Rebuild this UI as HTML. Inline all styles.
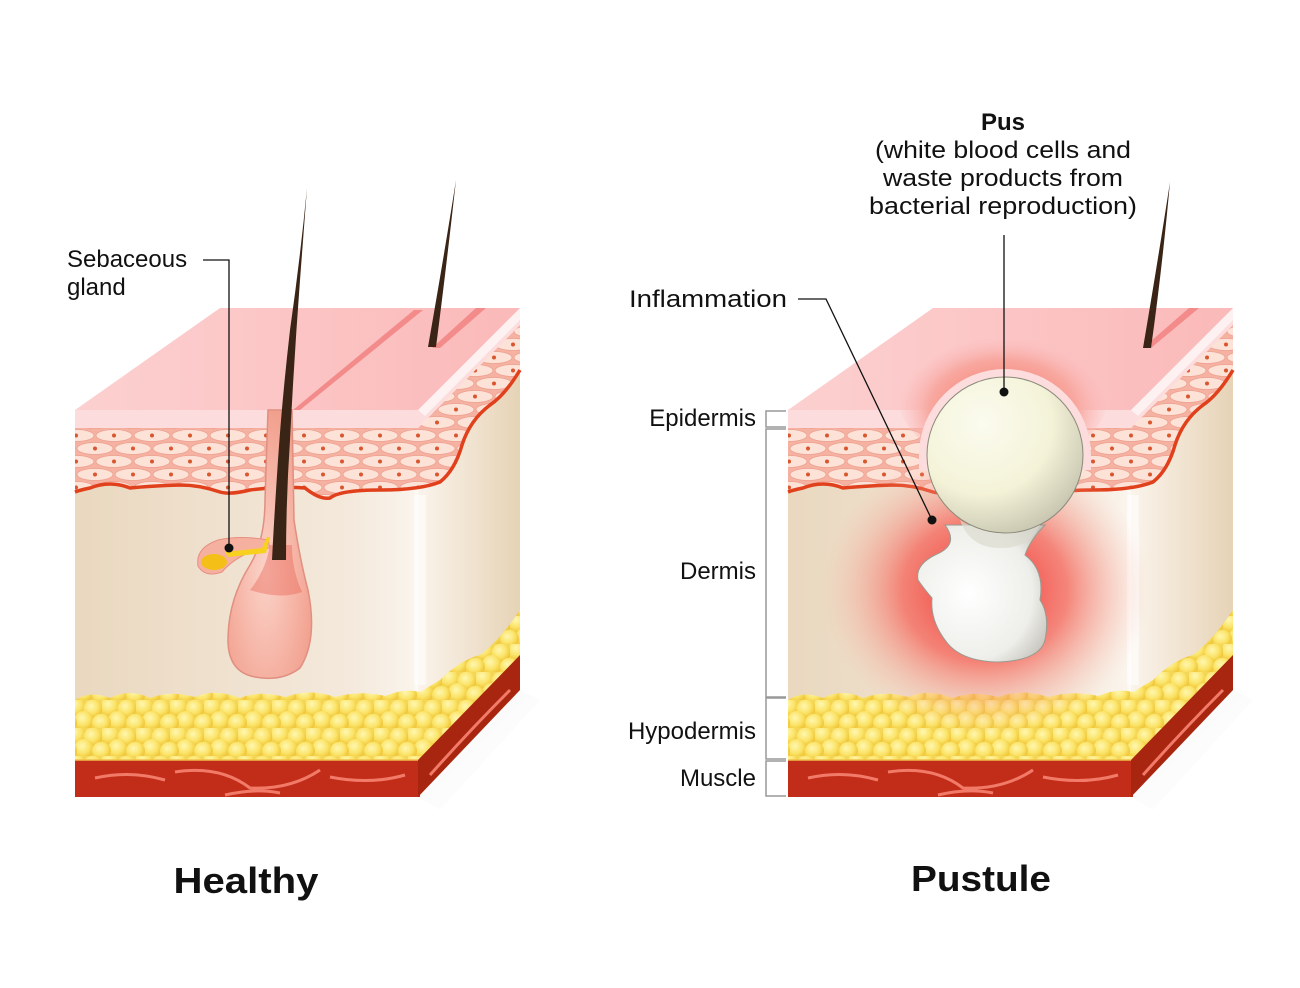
<!DOCTYPE html>
<html><head><meta charset="utf-8"><style>
html,body{margin:0;padding:0;background:#fff}
svg{display:block}
text{font-family:"Liberation Sans",sans-serif;fill:#111}
</style></head><body>
<svg width="1300" height="988" viewBox="0 0 1300 988" xmlns="http://www.w3.org/2000/svg">
<defs>
  <pattern id="cells" width="38" height="26" patternUnits="userSpaceOnUse">
    <rect width="38" height="26" fill="#f5b2a2"/>
    <ellipse cx="19" cy="6.5" rx="18" ry="6" fill="#fde2d8" stroke="#eea08e" stroke-width="0.8"/>
    <ellipse cx="0" cy="19.5" rx="18" ry="6" fill="#fde2d8" stroke="#eea08e" stroke-width="0.8"/>
    <ellipse cx="38" cy="19.5" rx="18" ry="6" fill="#fde2d8" stroke="#eea08e" stroke-width="0.8"/>
    <circle cx="19" cy="6.5" r="2" fill="#d9562e"/>
    <circle cx="0" cy="19.5" r="2" fill="#d9562e"/>
    <circle cx="38" cy="19.5" r="2" fill="#d9562e"/>
  </pattern>
  <radialGradient id="fatg" cx="0.4" cy="0.35" r="0.6">
    <stop offset="0" stop-color="#fff7b0"/>
    <stop offset="0.6" stop-color="#fbe46a"/>
    <stop offset="1" stop-color="#f0c83a"/>
  </radialGradient>
  <pattern id="fat" width="34" height="28" patternUnits="userSpaceOnUse">
    <rect width="34" height="28" fill="#f3d65a"/>
    <circle cx="8" cy="7" r="10" fill="url(#fatg)"/>
    <circle cx="25" cy="9" r="9.5" fill="url(#fatg)"/>
    <circle cx="16" cy="21" r="10" fill="url(#fatg)"/>
    <circle cx="33" cy="23" r="9" fill="url(#fatg)"/>
    <circle cx="0" cy="23" r="9" fill="url(#fatg)"/>
  </pattern>
  <linearGradient id="derm" x1="0" x2="1" y1="0" y2="0">
    <stop offset="0" stop-color="#ead8bf"/>
    <stop offset="0.8" stop-color="#f4e9dc"/>
    <stop offset="0.98" stop-color="#faf4ec"/>
    <stop offset="1" stop-color="#fff"/>
  </linearGradient>
  <linearGradient id="dermR" x1="0" x2="1">
    <stop offset="0" stop-color="#fbf4ec"/>
    <stop offset="1" stop-color="#e6d3b6"/>
  </linearGradient>
  <linearGradient id="topg" x1="0" x2="1">
    <stop offset="0" stop-color="#fcd0d0"/>
    <stop offset="1" stop-color="#fbb9b9"/>
  </linearGradient>
  <radialGradient id="follg" cx="0.45" cy="0.6" r="0.6">
    <stop offset="0" stop-color="#fbd3c9"/>
    <stop offset="1" stop-color="#f2a08e"/>
  </radialGradient>
  <radialGradient id="glow" cx="0.5" cy="0.5" r="0.5">
    <stop offset="0" stop-color="#f22a2a" stop-opacity="1"/>
    <stop offset="0.5" stop-color="#f55a50" stop-opacity="0.7"/>
    <stop offset="1" stop-color="#f8c0b0" stop-opacity="0"/>
  </radialGradient>
  <radialGradient id="bump" cx="0.5" cy="0.6" r="0.5">
    <stop offset="0" stop-color="#f3705e"/>
    <stop offset="0.7" stop-color="#f8a8a0"/>
    <stop offset="1" stop-color="#fbbcbc" stop-opacity="0"/>
  </radialGradient>
  <radialGradient id="pusg" cx="0.35" cy="0.3" r="0.75">
    <stop offset="0" stop-color="#fbfbef"/>
    <stop offset="0.6" stop-color="#f4f3d8"/>
    <stop offset="1" stop-color="#c8c6b0"/>
  </radialGradient>
  <radialGradient id="pusg2" cx="0.4" cy="0.5" r="0.7">
    <stop offset="0" stop-color="#ffffff"/>
    <stop offset="0.7" stop-color="#eeeeea"/>
    <stop offset="1" stop-color="#c4c3bc"/>
  </radialGradient>
  <linearGradient id="shadow" x1="0" x2="1" y1="0" y2="1">
    <stop offset="0" stop-color="#ddd" stop-opacity="0.4"/>
    <stop offset="1" stop-color="#fff" stop-opacity="0"/>
  </linearGradient>

  <g id="block">
    <polygon points="418,797 520,690 540,700 440,810" fill="url(#shadow)"/>
    <rect x="75" y="410" width="345" height="387" fill="url(#derm)"/>
    <polygon points="418,410 520,308 520,690 418,797" fill="url(#dermR)"/>
    <path d="M75,700 Q90,690 110,698 Q130,688 150,698 Q170,690 195,697 Q215,688 240,698 Q260,690 285,697 Q310,688 335,697 Q360,690 385,696 Q405,688 420,692 L440,680 Q460,660 480,655 Q500,640 520,610 L520,660 L418,762 L75,762 Z" fill="url(#fat)"/>
    <rect x="75" y="760" width="345" height="37" fill="#c12d18"/>
    <polygon points="418,760 520,655 520,690 418,797" fill="#a8260f"/>
    <path d="M95,778 Q130,770 165,780 M175,772 Q220,765 250,788 Q290,790 320,770 M330,777 Q370,785 405,775 M225,795 Q255,788 280,793 M430,775 Q470,730 510,690" stroke="#f27a68" stroke-width="3" fill="none"/>
    <line x1="75" y1="760" x2="418" y2="760" stroke="#f0c04a" stroke-width="1.5"/>
    <path d="M75,428 L418,428 L520,325 L520,370 Q505,395 490,405 Q470,420 462,445 Q455,470 440,482 Q420,490 380,490 Q340,490 330,498 Q320,500 305,488 Q280,486 250,490 Q230,495 220,492 Q200,485 180,485 Q150,486 130,488 Q110,480 90,488 Q80,490 75,492 Z" fill="url(#cells)" stroke="none"/>
    <path d="M520,370 Q505,395 490,405 Q470,420 462,445 Q455,470 440,482 Q420,490 380,490 Q340,490 330,498 Q320,500 305,488 Q280,486 250,490 Q230,495 220,492 Q200,485 180,485 Q150,486 130,488 Q110,480 90,488 Q80,490 75,492" fill="none" stroke="#e1401c" stroke-width="3.5"/>
    <polygon points="75,410 418,410 520,308 520,325 418,428 75,428" fill="#fcdcdc"/>
    <polygon points="418,410 520,308 520,320 425,416" fill="#fff" opacity="0.6"/>
    <polygon points="75,410 220,308 520,308 418,410" fill="url(#topg)"/>
    <rect x="414" y="495" width="12" height="190" fill="#fff" opacity="0.55"/>
  </g>
</defs>

<use href="#block"/>
<polygon points="293,410 300,410 423,310 414,310" fill="#f48b8b"/>
<polygon points="432,348 440,348 486,308 476,308" fill="#f48b8b"/>
<path d="M268,410 L292,410 L294,520 Q300,560 308,590 Q318,640 300,668 Q282,682 255,677 Q228,672 228,640 Q228,600 250,565 Q265,540 265,500 Z" fill="url(#follg)" stroke="#e08f80" stroke-width="1.5"/>
<path d="M270,545 L292,545 Q292,570 302,592 Q280,600 250,590 Q266,570 270,545Z" fill="#e86050" opacity="0.4"/>
<path d="M268,540 Q240,535 218,540 Q195,548 198,566 Q205,578 222,572 Q232,560 250,552 Q262,548 270,548 Z" fill="#f6b0a0" stroke="#e89080"/>
<ellipse cx="214" cy="562" rx="13" ry="8" fill="#f4c018"/>
<path d="M225,552 L262,548 L267,537 L270,537 L266,553 L228,557Z" fill="#f7d020"/>
<path d="M307,188 Q300,260 290,330 Q282,400 278,460 Q274,520 272,560 L286,560 Q286,500 290,440 Q294,360 300,280 Z" fill="#3a2416"/>
<path d="M456,180 Q445,250 428,347 L436,347 Q446,270 456,180Z" fill="#3a2416"/>
<text x="67" y="267" font-size="24">Sebaceous</text>
<text x="67" y="295" font-size="24">gland</text>
<polyline points="203,260 229,260 229,548" fill="none" stroke="#111" stroke-width="1.3"/>
<circle cx="229" cy="548" r="4.5" fill="#111"/>

<use href="#block" x="713"/>
<ellipse cx="985" cy="590" rx="165" ry="145" fill="url(#glow)"/>
<ellipse cx="1003" cy="395" rx="105" ry="72" fill="url(#bump)"/>
<polygon points="1143,348 1151,348 1199,308 1189,308" fill="#f48b8b"/>
<path d="M1170,182 Q1158,260 1143,348 L1151,348 Q1162,270 1170,182Z" fill="#3a2416"/>
<path d="M919,455 A86,86 0 0 1 1091,455 L1091,470 L919,470 Z" fill="#fcdcdc"/>
<path d="M945,525 Q960,545 935,555 Q915,565 918,580 Q925,590 932,598 Q930,620 945,640 Q960,662 1000,662 Q1040,660 1045,640 Q1050,615 1040,600 Q1045,570 1025,555 Q1030,540 1045,525 Z" fill="url(#pusg2)" stroke="#9a9a90" stroke-width="1"/>
<circle cx="1005" cy="455" r="78" fill="url(#pusg)" stroke="#8a8a7a" stroke-width="1"/>
<path d="M960,520 Q1000,545 1040,525 Q1030,548 1000,548 Q970,548 960,520Z" fill="#dcdcd0" opacity="0.7"/>

<text x="1003" y="130" font-size="24" font-weight="bold" text-anchor="middle">Pus</text>
<text x="1003" y="158" font-size="24" text-anchor="middle" textLength="256" lengthAdjust="spacingAndGlyphs">(white blood cells and</text>
<text x="1003" y="186" font-size="24" text-anchor="middle" textLength="240" lengthAdjust="spacingAndGlyphs">waste products from</text>
<text x="1003" y="214" font-size="24" text-anchor="middle" textLength="268" lengthAdjust="spacingAndGlyphs">bacterial reproduction)</text>
<line x1="1004" y1="235" x2="1004" y2="392" stroke="#111" stroke-width="1.3"/>
<circle cx="1004" cy="392" r="4.5" fill="#111"/>

<text x="629" y="307" font-size="24" textLength="158" lengthAdjust="spacingAndGlyphs">Inflammation</text>
<polyline points="798,299 826,299 932,520" fill="none" stroke="#111" stroke-width="1.3"/>
<circle cx="932" cy="520" r="4.5" fill="#111"/>

<text x="756" y="426" font-size="24" text-anchor="end">Epidermis</text>
<text x="756" y="579" font-size="24" text-anchor="end">Dermis</text>
<text x="756" y="739" font-size="24" text-anchor="end">Hypodermis</text>
<text x="756" y="786" font-size="24" text-anchor="end">Muscle</text>
<g fill="none" stroke="#999" stroke-width="1.5">
  <polyline points="786,411 766,411 766,427 786,427"/>
  <polyline points="786,429 766,429 766,697 786,697"/>
  <polyline points="786,698 766,698 766,759 786,759"/>
  <polyline points="786,761 766,761 766,796 786,796"/>
</g>

<text x="246" y="893" font-size="36" font-weight="bold" text-anchor="middle" textLength="145" lengthAdjust="spacingAndGlyphs">Healthy</text>
<text x="981" y="891" font-size="36" font-weight="bold" text-anchor="middle" textLength="140" lengthAdjust="spacingAndGlyphs">Pustule</text>
</svg>
</body></html>
